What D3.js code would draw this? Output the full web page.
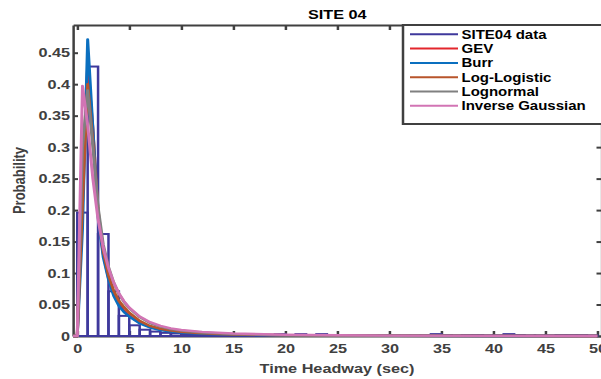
<!DOCTYPE html>
<html>
<head>
<meta charset="utf-8">
<script src="https://cdn.jsdelivr.net/npm/d3@7"></script>
<style>
  html, body { margin: 0; padding: 0; background: #fff; }
  svg { display: block; }
  text { font-family: Arial, "Liberation Sans", Helvetica, sans-serif; }
</style>
</head>
<body>
<div id="chart"></div>
<script>
// Histogram of observed headways, 1-second bins starting at 0 s
const binStarts = d3.range(0, 50);
const siteData = [
  0.196, 0.428, 0.162, 0.071, 0.032, 0.017, 0.010, 0.007, 0.005, 0.004,
  0.003, 0.003, 0.002, 0.002, 0.0015, 0.0015, 0.001, 0.001, 0.001, 0.003,
  0.001, 0.003, 0.001, 0.003, 0.001, 0.001, 0.0015, 0.0015, 0.001, 0.001,
  0.001, 0.001, 0.001, 0.001, 0.003, 0.0015, 0.001, 0.0015, 0.0015, 0.001,
  0.001, 0.003, 0.0015, 0.001, 0.001, 0.001, 0.0015, 0.0015, 0.0015, 0.001
];

// Fitted density curves, evaluated at these headways (sec)
const curveX = [-0.4, 0, 0.5, 1, 1.5, 2, 2.5, 3, 3.5, 4, 4.5, 5, 6, 7, 8, 9, 10, 12, 15, 20, 25, 30, 40, 50];
const gevY     = [0, 0, 0.24, 0.43, 0.33, 0.195, 0.13, 0.092, 0.067, 0.051, 0.040, 0.032, 0.021, 0.0145, 0.0105, 0.008, 0.0062, 0.0039, 0.0022, 0.001, 0.0005, 0.0003, 0.0001, 0];
const burrY    = [0, 0, 0.17, 0.471, 0.33, 0.19, 0.125, 0.09, 0.064, 0.048, 0.038, 0.031, 0.02, 0.0135, 0.0095, 0.007, 0.0055, 0.0035, 0.002, 0.0009, 0.0005, 0.0003, 0.0001, 0];
const logLogY  = [0, 0, 0.21, 0.40, 0.31, 0.20, 0.135, 0.097, 0.072, 0.056, 0.046, 0.037, 0.024, 0.016, 0.0115, 0.0085, 0.0066, 0.0042, 0.0024, 0.0011, 0.0006, 0.0004, 0.0002, 0.0001];
const logNormY = [0, 0, 0.30, 0.39, 0.30, 0.205, 0.145, 0.11, 0.085, 0.067, 0.054, 0.044, 0.030, 0.0205, 0.015, 0.011, 0.0085, 0.0055, 0.003, 0.0013, 0.0006, 0.0003, 0.0001, 0];
const invGaussY= [0, 0, 0.397, 0.335, 0.25, 0.185, 0.14, 0.108, 0.085, 0.068, 0.055, 0.045, 0.031, 0.022, 0.016, 0.012, 0.0095, 0.0065, 0.004, 0.002, 0.0011, 0.0006, 0.0002, 0.0001];

const seriesNames = ["SITE04 data", "GEV", "Burr", "Log-Logistic", "Lognormal", "Inverse Gaussian"];
const seriesColors = ["#3f399c", "#e3262c", "#0a6fbf", "#b8552b", "#808080", "#d274b4"];

const xTicks = [0, 5, 10, 15, 20, 25, 30, 35, 40, 45, 50];
const xTickLabels = ["0", "5", "10", "15", "20", "25", "30", "35", "40", "45", "50"];
const yTicks = [0, 0.05, 0.1, 0.15, 0.2, 0.25, 0.3, 0.35, 0.4, 0.45];
const yTickLabels = ["0", "0.05", "0.1", "0.15", "0.2", "0.25", "0.3", "0.35", "0.4", "0.45"];

// The figure is drawn in a narrower user space and stretched horizontally.
const S = 1.25;
const W = 601 / S, H = 379;
const px = v => v / S;

const svg = d3.select("#chart").append("svg")
  .attr("width", 601).attr("height", 379)
  .attr("viewBox", `0 0 ${W} ${H}`)
  .attr("preserveAspectRatio", "none");

const plotL = px(73), plotR = px(601.5), plotT = 25, plotB = 336;
const x = d3.scaleLinear().domain([-0.41, 50.4]).range([plotL, plotR]);
const y = d3.scaleLinear().domain([0, 0.494]).range([plotB, plotT]);

const axisColor = "#404040";
const gAxes = svg.append("g");

function styleAxis(g) {
  g.select(".domain").attr("stroke", axisColor).attr("stroke-width", 2).attr("fill", "none");
  g.selectAll(".tick line").attr("stroke", axisColor).attr("stroke-width", 2);
  g.selectAll(".tick text")
    .attr("fill", axisColor)
    .style("font-size", "13px")
    .style("font-weight", "bold");
}

gAxes.append("g").attr("transform", `translate(0,${plotB})`)
  .call(d3.axisBottom(x).tickValues(xTicks).tickFormat((d, i) => xTickLabels[i])
    .tickSize(-5).tickSizeOuter(0).tickPadding(8))
  .call(styleAxis);
gAxes.append("g").attr("transform", `translate(0,${plotT})`)
  .call(d3.axisTop(x).tickValues(xTicks).tickFormat("").tickSize(-5).tickSizeOuter(0))
  .call(styleAxis);
gAxes.append("g").attr("transform", `translate(${plotL},0)`)
  .call(d3.axisLeft(y).tickValues(yTicks).tickFormat((d, i) => yTickLabels[i])
    .tickSize(-px(5)).tickSizeOuter(0).tickPadding(px(3)))
  .call(styleAxis);
gAxes.append("g").attr("transform", `translate(${plotR},0)`)
  .call(d3.axisRight(y).tickValues(yTicks).tickFormat("").tickSize(-px(5)).tickSizeOuter(0))
  .call(styleAxis);

// Histogram bars (outlined)
svg.append("g").selectAll("rect")
  .data(binStarts)
  .join("rect")
  .attr("x", d => x(d))
  .attr("width", d => x(d + 1) - x(d))
  .attr("y", (d, i) => y(siteData[i]))
  .attr("height", (d, i) => y(0) - y(siteData[i]))
  .attr("fill", "none")
  .attr("stroke", seriesColors[0])
  .attr("stroke-width", 2);

// Fitted curves
const curves = [gevY, burrY, logLogY, logNormY, invGaussY];
const line = d3.line().x(d => x(d[0])).y(d => y(d[1]));
svg.append("g").selectAll("path")
  .data(curves)
  .join("path")
  .attr("d", vals => line(curveX.map((cx, i) => [cx, vals[i]])))
  .attr("fill", "none")
  .attr("stroke", (d, i) => seriesColors[i + 1])
  .attr("stroke-width", 2.4)
  .attr("stroke-linejoin", "round");

// Title and axis labels
svg.append("text")
  .attr("x", (plotL + plotR) / 2).attr("y", 19)
  .attr("text-anchor", "middle")
  .style("font-size", "13px").style("font-weight", "bold")
  .attr("fill", "#000")
  .text("SITE 04");

svg.append("text")
  .attr("x", px(337)).attr("y", 373)
  .attr("text-anchor", "middle")
  .style("font-size", "13px").style("font-weight", "bold")
  .attr("fill", axisColor)
  .text("Time Headway (sec)");

svg.append("text")
  .attr("transform", `translate(${px(25)},${(plotT + plotB) / 2}) rotate(-90)`)
  .attr("text-anchor", "middle")
  .style("font-size", "13px").style("font-weight", "bold")
  .attr("fill", axisColor)
  .text("Probability");

// Legend
const legX = px(403), legY = 25, legW = px(601) - px(403) + 2, legH = 99;
const leg = svg.append("g");
leg.append("rect")
  .attr("x", legX).attr("y", legY)
  .attr("width", legW).attr("height", legH)
  .attr("fill", "#fff")
  .attr("stroke", axisColor).attr("stroke-width", 2);
const rows = leg.selectAll("g.row").data(seriesNames).join("g")
  .attr("class", "row")
  .attr("transform", (d, i) => `translate(0,${34.3 + i * 14.3})`);
rows.append("line")
  .attr("x1", px(410)).attr("x2", px(458))
  .attr("stroke", (d, i) => seriesColors[i])
  .attr("stroke-width", 2);
rows.append("text")
  .attr("x", px(461.5)).attr("dy", "0.36em")
  .style("font-size", "12px").style("font-weight", "bold")
  .attr("fill", "#000")
  .text(d => d);
</script>
</body>
</html>
